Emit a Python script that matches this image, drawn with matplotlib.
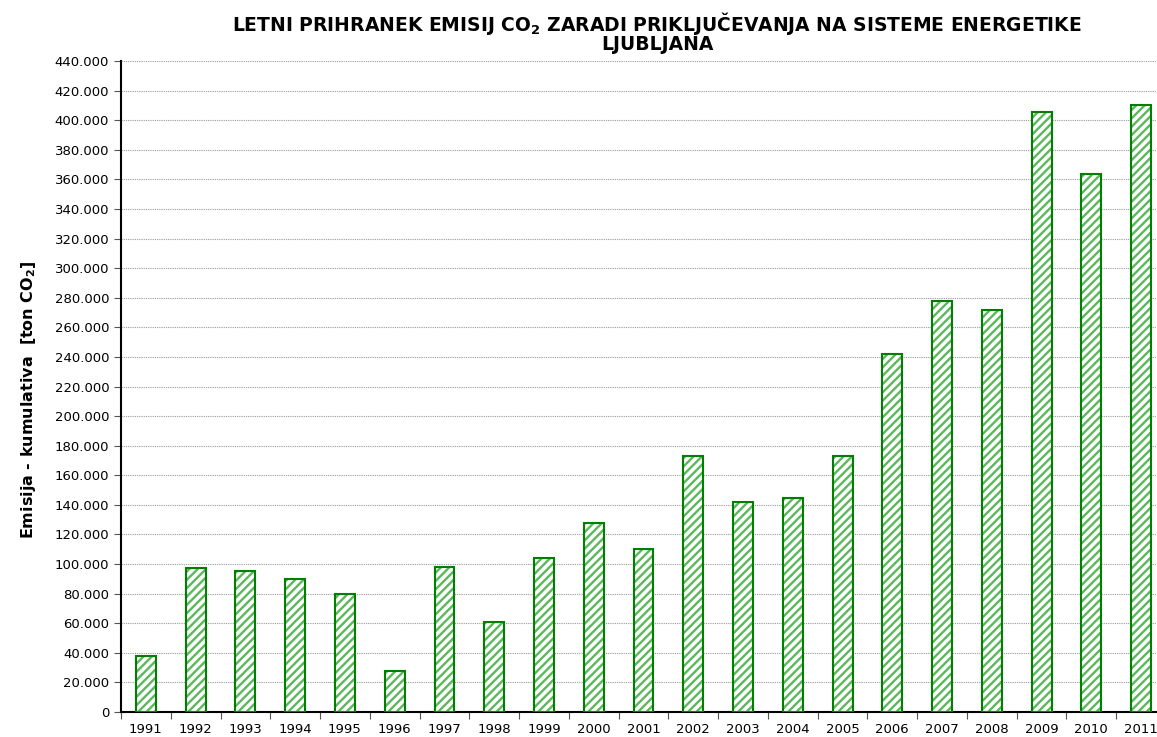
import numpy as np
import matplotlib
matplotlib.use("Agg")
import matplotlib.pyplot as plt
from matplotlib.ticker import FuncFormatter, MultipleLocator, FixedLocator

# Podatki (odčitano s slike)
years = [str(y) for y in range(1991, 2012)]
values = [38000, 97000, 95000, 90000, 80000, 27500, 98000, 61000, 104000,
          128000, 110000, 173000, 142000, 144500, 173000, 242000, 278000,
          272000, 405500, 363500, 410000]

plt.rcParams['font.family'] = ['DejaVu Sans']
plt.rcParams['hatch.linewidth'] = 1.7

fig = plt.figure(figsize=(11.57, 7.37), dpi=100)
ax = fig.add_axes([121 / 1157, 25 / 737, (1166 - 121) / 1157, (712 - 61) / 737])

x = np.arange(len(years))
# šrafura (svetlejša zelena) + obroba
ax.bar(x, values, width=0.4, color='white', edgecolor='#5cb85c', hatch='////',
       linewidth=0, zorder=3)
ax.bar(x, values, width=0.4, color='none', edgecolor='#008000', linewidth=1.5, zorder=4)

ax.set_xlim(-0.5, len(years) - 0.5)
ax.set_ylim(0, 440000)
ax.yaxis.set_major_locator(MultipleLocator(20000))
ax.yaxis.set_major_formatter(FuncFormatter(lambda v, p: f"{int(v):,}".replace(",", ".")))
ax.grid(axis='y', color='#9a9a9a', linestyle=(0, (1, 1)), linewidth=0.8, zorder=0)

ax.set_xticks(x)
ax.set_xticklabels(years)
ax.tick_params(axis='x', length=0, labelsize=9.5, pad=8)
ax.xaxis.set_minor_locator(FixedLocator(np.arange(-0.5, len(years), 1.0)))
ax.tick_params(axis='x', which='minor', length=5, width=0.8, color='#555555')
ax.tick_params(axis='y', labelsize=9.5, length=5, width=0.8, color='#555555')

for s in ['top', 'right']:
    ax.spines[s].set_visible(False)
ax.spines['left'].set_linewidth(1.5)
ax.spines['bottom'].set_linewidth(1.5)

ax.set_ylabel('Emisija - kumulativa  [ton CO$_\\mathbf{2}$]', fontsize=11.5,
              fontweight='bold')
ax.yaxis.set_label_coords(-0.079, 0.48)
fig.text(657 / 1157, 1 - 10 / 737,
         'LETNI PRIHRANEK EMISIJ CO$_\\mathbf{2}$ ZARADI PRIKLJUČEVANJA NA SISTEME ENERGETIKE\nLJUBLJANA',
         ha='center', va='top', fontsize=13.5, fontweight='bold', linespacing=0.9)

fig.savefig('out.png', dpi=100)
